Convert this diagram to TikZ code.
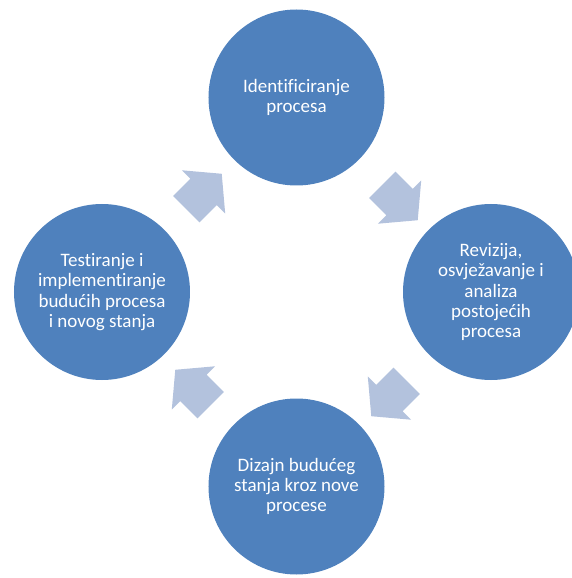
\documentclass[tikz,border=0pt]{standalone}
\usepackage{fontspec}
\setmainfont{Carlito}[Ligatures=NoCommon]
\usetikzlibrary{shapes.arrows}
\definecolor{stepblue}{HTML}{4F81BD}
\definecolor{arrblue}{HTML}{B3C2DD}

\begin{document}
\begin{tikzpicture}[
  x=1pt, y=1pt,
  phase/.style={circle, fill=stepblue, minimum size=176pt, inner sep=0pt,
                text=white, align=center, font=\fontsize{19}{20.25}\selectfont},
  cyclearr/.style={single arrow, fill=arrblue, inner xsep=0pt, inner ysep=18.5pt,
                   minimum height=50pt, single arrow head extend=12pt,
                   single arrow tip angle=100}
]
\useasboundingbox (-296.5,-286) rectangle (275.5,292);

\node[phase] (ident) at (90:194.5)  {Identificiranje\\procesa};
\node[phase] (rev)   at (0:194.5)   {Revizija,\\osvježavanje i\\analiza\\postojećih\\procesa};
\node[phase] (diz)   at (-90:194.5) {Dizajn budućeg\\stanja kroz nove\\procese};
\node[phase] (test)  at (180:194.5) {Testiranje i\\implementiranje\\budućih procesa\\i novog stanja};

\node[cyclearr, rotate=-45]  (a1) at (98,95)    {};
\node[cyclearr, rotate=-135] (a2) at (98,-101)  {};
\node[cyclearr, rotate=135]  (a3) at (-98,-101) {};
\node[cyclearr, rotate=45]   (a4) at (-98,95)   {};
\end{tikzpicture}
\end{document}
